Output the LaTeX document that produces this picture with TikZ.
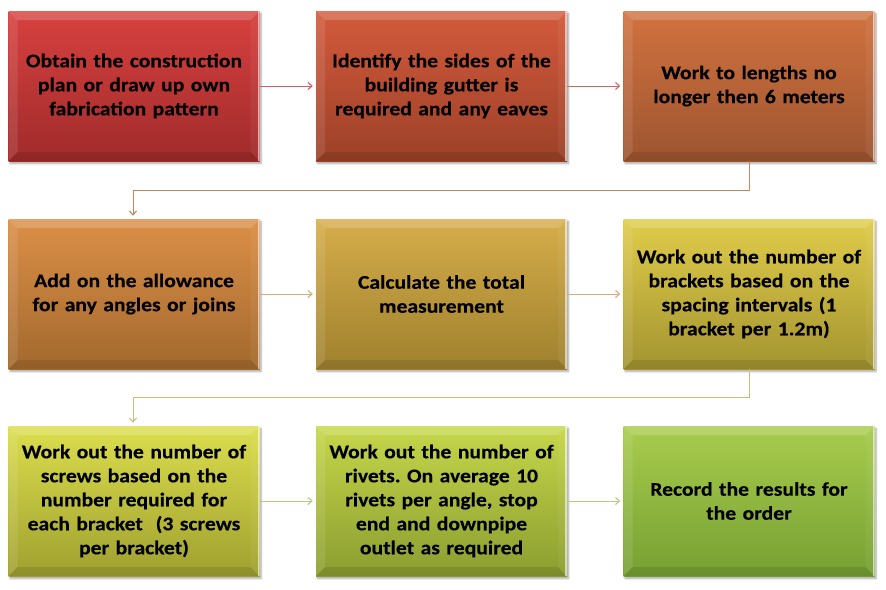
\documentclass[tikz,border=0pt]{standalone}
\usepackage{fontspec}
\setmainfont{Carlito}[FakeStretch=1.12, BoldFeatures={FakeBold=0.4}]
\usetikzlibrary{shadows.blur,arrows.meta}
\definecolor{aT}{HTML}{D7413F}\definecolor{aB}{HTML}{A02B2B}
\definecolor{bT}{HTML}{D35A3C}\definecolor{bB}{HTML}{9C4128}
\definecolor{cT}{HTML}{D1723F}\definecolor{cB}{HTML}{9E5530}
\definecolor{dT}{HTML}{DB8F47}\definecolor{dB}{HTML}{A3692E}
\definecolor{eT}{HTML}{D6AD4A}\definecolor{eB}{HTML}{9F812E}
\definecolor{fT}{HTML}{E0CC4A}\definecolor{fB}{HTML}{A39430}
\definecolor{gT}{HTML}{DCDE4D}\definecolor{gB}{HTML}{9FA02F}
\definecolor{hT}{HTML}{C6D74A}\definecolor{hB}{HTML}{8B9D30}
\definecolor{iT}{HTML}{A8CC4C}\definecolor{iB}{HTML}{76A033}
\definecolor{lnA}{HTML}{D06060}
\definecolor{lnB}{HTML}{C8865C}
\definecolor{lnC}{HTML}{D2AE78}
\definecolor{lnD}{HTML}{C8C078}
\definecolor{lnE}{HTML}{B4CC80}
\tikzset{
  stepbox/.style={rectangle, minimum width=251pt, minimum height=150pt, inner sep=0pt,
    align=center, text width=240pt,
    font=\fontsize{19.3}{24}\selectfont\bfseries\frenchspacing,
    blur shadow={shadow xshift=1.5pt, shadow yshift=-2.5pt, shadow opacity=35, shadow blur steps=6},
    path picture={
      \fill[white,opacity=0.18] (path picture bounding box.north west) -- (path picture bounding box.north east)
        -- ([xshift=-9pt,yshift=-9pt]path picture bounding box.north east) -- ([xshift=9pt,yshift=-9pt]path picture bounding box.north west) -- cycle;
      \fill[white,opacity=0.10] (path picture bounding box.north west) -- (path picture bounding box.south west)
        -- ([xshift=9pt,yshift=9pt]path picture bounding box.south west) -- ([xshift=9pt,yshift=-9pt]path picture bounding box.north west) -- cycle;
      \fill[black,opacity=0.10] (path picture bounding box.south west) -- (path picture bounding box.south east)
        -- ([xshift=-9pt,yshift=9pt]path picture bounding box.south east) -- ([xshift=9pt,yshift=9pt]path picture bounding box.south west) -- cycle;
      \fill[white,opacity=0.05] (path picture bounding box.north east) -- (path picture bounding box.south east)
        -- ([xshift=-9pt,yshift=9pt]path picture bounding box.south east) -- ([xshift=-9pt,yshift=-9pt]path picture bounding box.north east) -- cycle;
      \fill[white,opacity=0.6] ([xshift=-2pt]path picture bounding box.north east) rectangle (path picture bounding box.south east);
    }},
  conn/.style={line width=0.9pt, -{Straight Barb[length=4pt,width=7pt,line width=1.1pt]}, shorten >=3pt},
}
\begin{document}
\begin{tikzpicture}[x=1pt,y=-1pt]
\useasboundingbox (0,0) rectangle (886,589);
\node[stepbox, top color=aT, bottom color=aB] (s1) at (134,86) {Obtain the construction\\plan or draw up own\\fabrication pattern};
\node[stepbox, top color=bT, bottom color=bB] (s2) at (441.5,86) {Identify the sides of the\\building gutter is\\required and any eaves};
\node[stepbox, top color=cT, bottom color=cB] (s3) at (749,86) {Work to lengths no\\longer then 6 meters};
\node[stepbox, top color=dT, bottom color=dB] (s4) at (134,294) {Add on the allowance\\for any angles or joins};
\node[stepbox, top color=eT, bottom color=eB] (s5) at (441.5,294) {Calculate the total\\measurement};
\node[stepbox, top color=fT, bottom color=fB] (s6) at (749,294) {Work out the number of\\brackets based on the\\spacing intervals (1\\bracket per 1.2m)};
\node[stepbox, top color=gT, bottom color=gB] (s7) at (134,501) {Work out the number of\\screws based on the\\number required for\\each bracket\ \ (3 screws\\per bracket)};
\node[stepbox, top color=hT, bottom color=hB] (s8) at (441.5,501) {Work out the number of\\rivets. On average 10\\rivets per angle, stop\\end and downpipe\\outlet as required};
\node[stepbox, top color=iT, bottom color=iB] (s9) at (749,501) {Record the results for\\the order};
\draw[conn, lnA] (s1) -- (s2);
\draw[conn, lnA!80!lnB] (s2) -- (s3);
\coordinate (w1a) at (749,190);
\coordinate (w1b) at (133,190);
\draw[conn, lnB] (s3.south) -- (w1a) -- (w1b) -- (s4.north -| w1b);
\draw[conn, lnC] (s4) -- (s5);
\draw[conn, lnC] (s5) -- (s6);
\coordinate (w2a) at (749,397);
\coordinate (w2b) at (133,397);
\draw[conn, lnD] (s6.south) -- (w2a) -- (w2b) -- (s7.north -| w2b);
\draw[conn, lnE] (s7) -- (s8);
\draw[conn, lnE] (s8) -- (s9);
\end{tikzpicture}
\end{document}
